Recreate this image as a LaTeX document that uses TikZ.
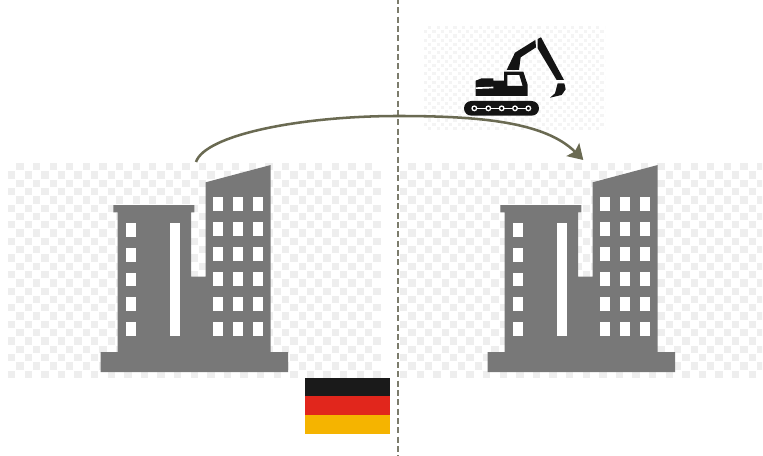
\documentclass[tikz,border=0pt]{standalone}
\usetikzlibrary{arrows.meta}
\definecolor{bldg}{HTML}{787878}
\definecolor{chk}{HTML}{EEEEEE}
\definecolor{chkfaint}{HTML}{F4F4F4}
\definecolor{arrowc}{HTML}{6A6A52}
\definecolor{dashc}{HTML}{7C7C6C}
\definecolor{flagk}{HTML}{1A1A1A}
\definecolor{flagr}{HTML}{E1261C}
\definecolor{flagy}{HTML}{F5B400}
\newcommand{\chkboard}[8]{% x0 y0 x1 y1 cell rows cols colour
  \begin{scope}
    \clip (#1,#2) rectangle (#3,#4);
    \foreach \r in {0,...,#6}{
      \foreach \c in {0,...,#7}{
        \pgfmathsetmacro{\xx}{#1+#5*(2*\c+mod(\r+1,2))}
        \pgfmathsetmacro{\yy}{#2+#5*\r}
        \fill[#8] (\xx,\yy) rectangle ++(#5-1,#5-1);
      }
    }
  \end{scope}
}
\tikzset{
  win/.style={fill=white,draw=none},
  bldgfill/.style={fill=bldg,draw=none},
  exc/.style={fill=black!92,draw=none},
  building/.pic={
    \fill[bldgfill] (100.7,352) -- (117.7,352) -- (117.7,212.3) -- (113.3,212.3) -- (113.3,205)
      -- (194.3,205) -- (194.3,212.3) -- (191,212.3) -- (191,276.7) -- (205.7,276.7) -- (205.7,182.3)
      -- (270.7,165) -- (270.7,352) -- (288,352) -- (288,372) -- (100.7,372) -- cycle;
    \foreach \y in {223.3,248,272.7,297.3,322.3}
      \fill[win] (126,\y) rectangle ++(10,13.5);
    \fill[win] (170,222.7) rectangle (180,336);
    \foreach \x in {212.7,232.7,253}
      \foreach \y in {197.3,222.3,247.3,272.3,297.3,322.3}
        \fill[win] (\x,\y) rectangle ++(10,14);
  }
}
\begin{document}
\begin{tikzpicture}[x=0.75pt,y=-0.75pt]
\useasboundingbox (0,0) rectangle (763,456);
\fill[white] (0,0) rectangle (763,456);
% transparency-grid backgrounds
\chkboard{8}{163}{381}{378}{8.3}{26}{22}{chk}
\chkboard{400}{163}{762}{378}{8.3}{26}{22}{chk}
\chkboard{424}{26}{605}{130}{4.2}{25}{22}{chkfaint}
% buildings
\pic at (0,0) {building};
\pic at (387,0) {building};
% excavator
\begin{scope}[shift={(455,30)},x=0.25pt,y=-0.25pt]
  \fill[exc,rounded corners=5.5pt] (27,213) rectangle (252,257);
  \draw[white,line width=0.8pt] (58,235) -- (220,235);
  \foreach \x in {58,100,140,180,220}
    \draw[white,fill=black,line width=1pt] (\x,235) circle[radius=1.7pt];
  \fill[exc,even odd rule] (62,152) -- (80,145) -- (115,145) -- (115,152) -- (147,152) -- (147,125)
    -- (205,125) -- (218,165) -- (218,198) -- (62,198) -- cycle
    (157,135) -- (193,135) -- (203,168) -- (157,168) -- cycle;
  \fill[white] (62,172) -- (115,170) -- (115,175) -- (62,177) -- cycle;
  \fill[exc] (155,120) -- (180,68) -- (241,30) -- (243,52) -- (197,82) -- (192,120) -- cycle;
  \fill[exc] (248,27) -- (258,22) -- (327,150) -- (305,150) -- (248,55) -- cycle;
  \fill[exc] (308,160) -- (328,160) -- (332,178) -- (320,195) -- (285,203) -- (300,190) -- cycle;
\end{scope}
% flag
\fill[flagk] (304.7,377.5) rectangle (390,396);
\fill[flagr] (304.7,396) rectangle (390,415);
\fill[flagy] (304.7,415) rectangle (390,434);
% divider
\coordinate (divtop) at (398,0);
\coordinate (divbot) at (398,456);
\draw[dashc,line width=0.9pt,dash pattern=on 4.6pt off 2.4pt,dash phase=1.5pt] (divtop) -- (divbot);
% arrow
\coordinate (from) at (196,162);
\coordinate (mid) at (398,116);
\coordinate (to) at (583.3,160);
\draw[arrowc,line width=1.9pt,-{Stealth[length=11pt,width=13.5pt,inset=2pt]}] (from) .. controls (205,135) and (300,116) .. (mid) .. controls (480,116) and (545,122) .. (to);
\end{tikzpicture}
\end{document}
